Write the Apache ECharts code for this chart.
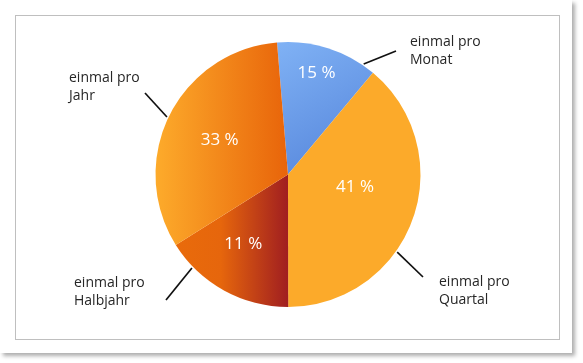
<!DOCTYPE html>
<html><head><meta charset="utf-8">
<script src="https://cdn.jsdelivr.net/npm/echarts@6/dist/echarts.min.js"></script>
<style>
html,body{margin:0;padding:0;background:#fff;width:583px;height:363px;overflow:hidden}
#card{position:absolute;left:0;top:0;width:572px;height:353px;background:#fff;box-shadow:3px 3px 4px rgba(0,0,0,0.32)}
#frame{position:absolute;left:15px;top:15px;width:545px;height:325px;box-sizing:border-box;border:1px solid #bfbfbf}
#chart{position:absolute;left:0;top:0;width:583px;height:363px}
</style></head><body>
<div id="card"></div><div id="frame"></div><div id="chart"></div>
<script>
// ---- data ----
const categories = ['einmal pro\nMonat', 'einmal pro\nQuartal', 'einmal pro\nHalbjahr', 'einmal pro\nJahr'];
const shares = [12.4, 38.9, 16.1, 32.6];        // slice sizes as drawn in the picture
const percentLabels = [15, 41, 11, 33];          // percentages printed on the slices

// ---- styles / layout ----
const G = echarts.graphic.LinearGradient;
const sliceColors = [
  new G(0, 0, 0.8, 1, [{offset: 0, color: '#80B2F5'}, {offset: 1, color: '#5585DB'}]),
  '#FCAA2A',
  new G(0, 0, 1, 0, [{offset: 0, color: '#E96B0B'}, {offset: 0.4, color: '#E6660C'}, {offset: 1, color: '#A01E20'}]),
  new G(0, 0, 1, 0, [{offset: 0, color: '#FDAB2B'}, {offset: 1, color: '#E8640A'}])
];
const pieCenter = [288, 174.5];
const pieRadius = 132.5;
const startAngle = 94.76;
// outer label text anchor (left edge, vertical middle)
const outerLabelPos = [[410, 51], [439, 291], [74, 292.5], [69, 87]];
// leader line: start angle on the rim (deg clockwise from top), end point
const leaderStartAngle = [34.4, 125.4, 225.8, 295.4];
const leaderEnd = [[396, 51], [423, 277], [166, 300], [145, 93]];
const leaderGap = 1.5;
const innerLabelPos = [[316.5, 73], [355, 187.5], [243.3, 244.3], [219.7, 139.7]];

function rimPoint(deg, r) {
  const a = deg * Math.PI / 180;
  return [pieCenter[0] + r * Math.sin(a), pieCenter[1] - r * Math.cos(a)];
}

const chart = echarts.init(document.getElementById('chart'), null, {renderer: 'canvas'});
chart.setOption({
  animation: false,
  series: [
    {
      type: 'pie',
      center: pieCenter,
      radius: pieRadius,
      startAngle: startAngle,
      clockwise: true,
      avoidLabelOverlap: false,
      silent: true,
      emphasis: {disabled: true},
      itemStyle: {borderWidth: 0},
      label: {
        show: true,
        position: 'outside',
        fontFamily: 'Open Sans',
        fontSize: 14,
        lineHeight: 18,
        color: '#262626',
        formatter: p => categories[p.dataIndex]
      },
      labelLine: {show: true, length: 10, length2: 0, lineStyle: {color: '#111', width: 1.7}},
      labelLayout: p => {
        const i = p.dataIndex;
        const s = rimPoint(leaderStartAngle[i], pieRadius + leaderGap);
        const e = leaderEnd[i];
        return {
          x: outerLabelPos[i][0], y: outerLabelPos[i][1],
          align: 'left', verticalAlign: 'middle',
          labelLinePoints: [s, e, e]
        };
      },
      data: shares.map((v, i) => ({
        name: categories[i], value: v,
        itemStyle: {color: sliceColors[i]}
      }))
    },
    {
      type: 'pie',
      center: pieCenter,
      radius: pieRadius,
      startAngle: startAngle,
      clockwise: true,
      avoidLabelOverlap: false,
      silent: true,
      emphasis: {disabled: true},
      itemStyle: {color: 'rgba(0,0,0,0)', borderWidth: 0},
      label: {
        show: true,
        position: 'inside',
        fontFamily: 'Open Sans',
        fontSize: 17,
        color: '#ffffff',
        formatter: p => percentLabels[p.dataIndex] + ' %'
      },
      labelLine: {show: false},
      labelLayout: p => {
        const q = innerLabelPos[p.dataIndex];
        return {x: q[0], y: q[1], align: 'center', verticalAlign: 'middle'};
      },
      data: shares.map((v, i) => ({name: categories[i], value: v}))
    }
  ]
});
</script>
</body></html>
